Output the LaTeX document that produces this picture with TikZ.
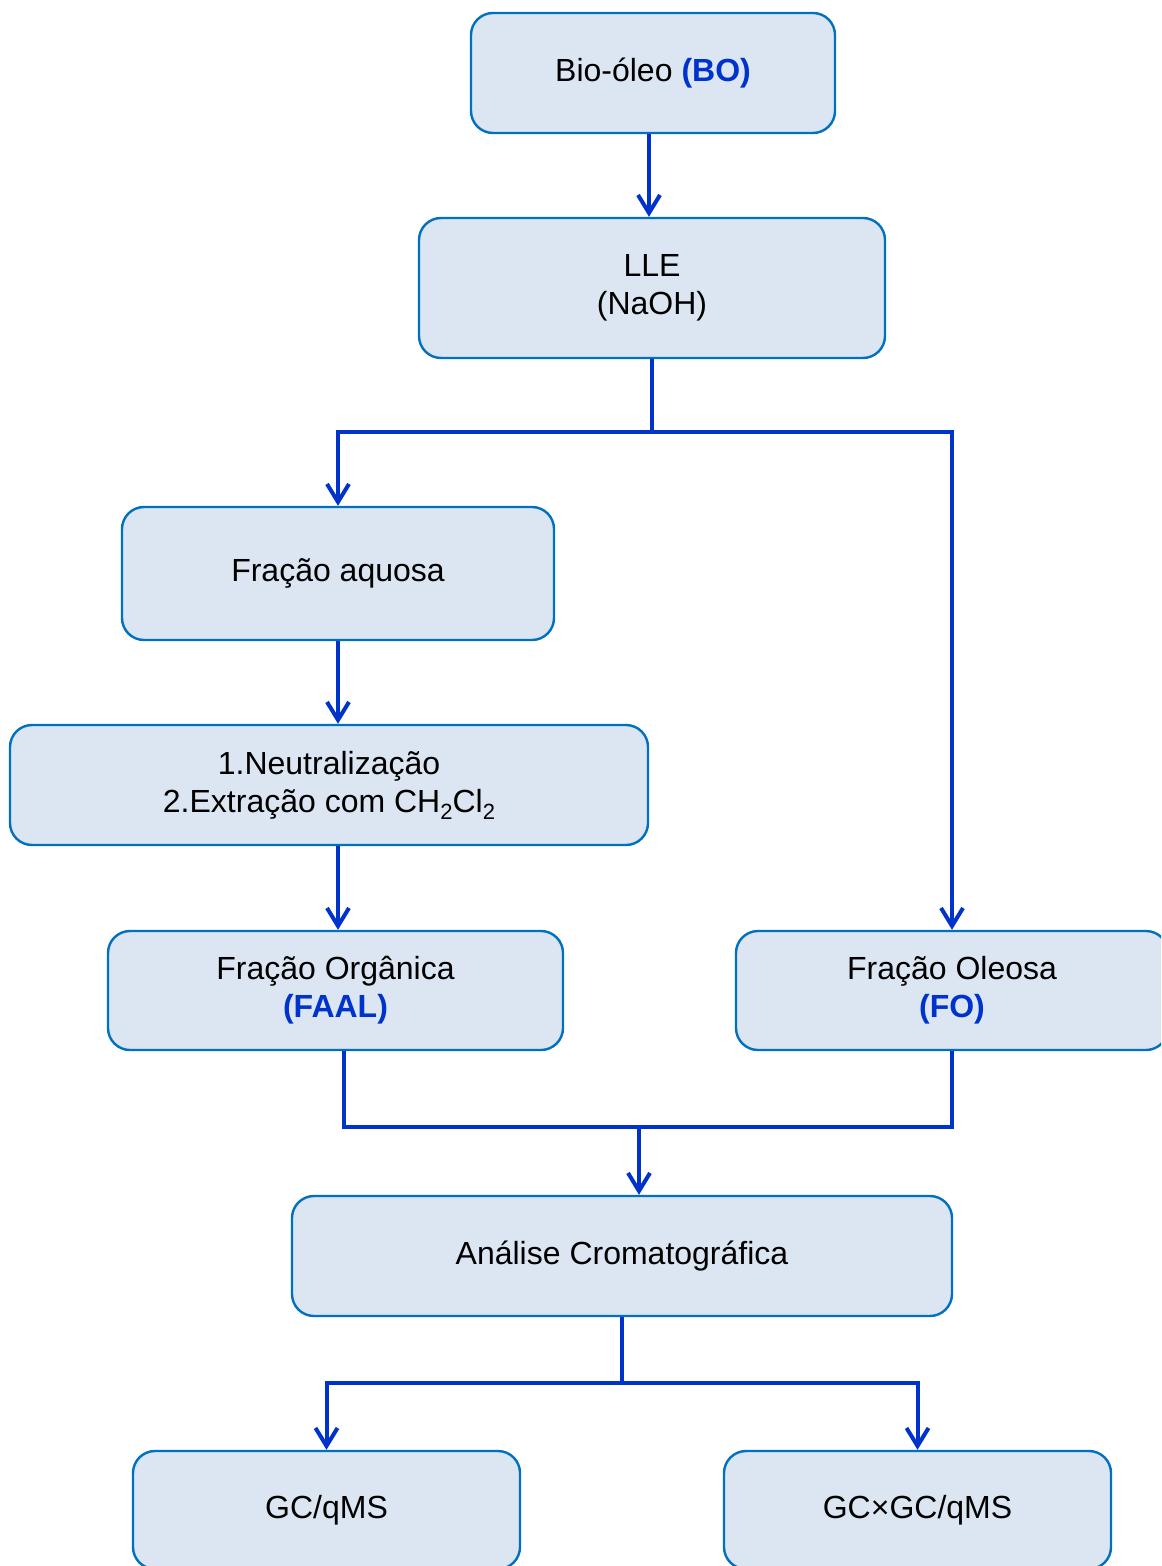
\documentclass[tikz,border=0pt]{standalone}
\usepackage{fontspec}
\setmainfont{Liberation Sans}
\usepackage{tikz}
\usetikzlibrary{positioning,arrows.meta,calc}

\definecolor{boxline}{RGB}{0,112,192}
\definecolor{boxfill}{RGB}{220,230,242}
\definecolor{flowblue}{RGB}{0,51,204}

\newcommand{\lowsub}[1]{\raisebox{-3.5pt}{\fontsize{11}{11}\selectfont #1}}

\begin{document}
\begin{tikzpicture}[
    x=0.5pt, y=-0.5pt,
    stage/.style={draw=boxline, fill=boxfill, line width=1.2pt, rounded corners=11pt, align=center, font=\fontsize{16}{19}\selectfont},
    conn/.style={line width=2pt, flowblue},
    connarrow/.style={conn, -{Straight Barb[length=9pt, width=11pt]}},
]
  \useasboundingbox (0,0) rectangle (1161,1566);
  \clip (0,0) rectangle (1161,1566);

  \node[stage, minimum width=182pt, minimum height=60pt] (bo) at (653, 73) {Bio-óleo {\bfseries\color{flowblue}(BO)}};
  \node[stage, minimum width=233pt, minimum height=70pt] (lle) at (652, 288) {LLE \\ (NaOH)};

  \node[stage, minimum width=216pt, minimum height=66.5pt] (aquosa) at (338, 573.5) {Fração aquosa};
  \node[stage, minimum width=319pt, minimum height=60pt] (neutr) at (329, 785) {1.Neutralização \\ 2.Extração com CH\lowsub{2}Cl\lowsub{2}};
  \node[stage, minimum width=227.5pt, minimum height=59.5pt] (faal) at (335.5, 990.5) {Fração Orgânica \\ {\bfseries\color{flowblue}(FAAL)}};
  \node[stage, minimum width=216pt, minimum height=59.5pt] (fo) at (952, 990.5) {Fração Oleosa \\ {\bfseries\color{flowblue}(FO)}};

  \node[stage, minimum width=330pt, minimum height=60pt] (analise) at (622, 1256) {Análise Cromatográfica};
  \node[stage, minimum width=193.5pt, minimum height=59pt] (gcms) at (326.5, 1510) {GC/qMS};
  \node[stage, minimum width=193.5pt, minimum height=59pt] (gcgc) at (917.5, 1510) {GC×GC/qMS};

  % split and merge points
  \coordinate (split1) at (652, 432);
  \coordinate (merge) at (639, 1127);
  \coordinate (split2) at (622, 1383);

  \draw[connarrow] ([xshift=-2pt]bo.south) -- ([xshift=-2pt]bo.south |- lle.north);
  \draw[conn] (lle.south) -- (split1);
  \draw[connarrow] (split1) -| (aquosa.north);
  \draw[connarrow] (split1) -| (fo.north);
  \draw[connarrow] (aquosa.south) -- (aquosa.south |- neutr.north);
  \draw[connarrow] (aquosa.south |- neutr.south) -- (aquosa.south |- faal.north);

  \draw[conn] ([xshift=4pt]faal.south) |- (merge);
  \draw[conn] (fo.south) |- (merge);
  \draw[connarrow] (merge) -- (merge |- analise.north);

  \draw[conn] (analise.south) -- (split2);
  \draw[connarrow] (split2) -| (gcms.north);
  \draw[connarrow] (split2) -| (gcgc.north);
\end{tikzpicture}
\end{document}
